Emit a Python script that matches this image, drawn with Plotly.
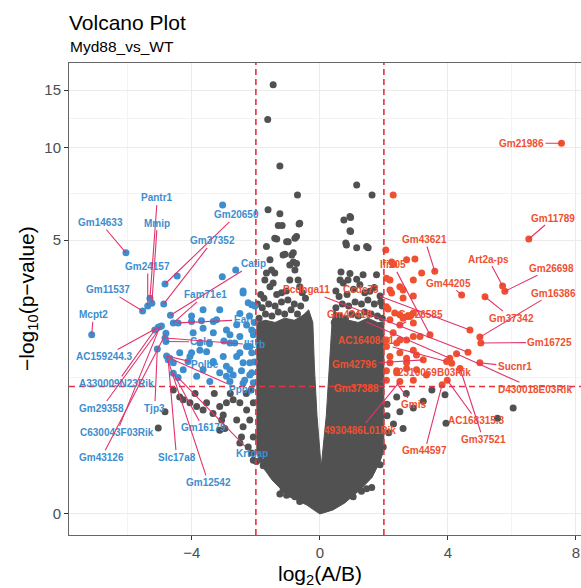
import numpy as np
import plotly.graph_objects as go

# ---------------- data (log2 fold change, -log10 p-value) ----------------
FC_CUT = 2.0
P_CUT = 0.05

# outline of the dense, fully overlapping cloud of non-significant genes
core_fc = [0, -0.41, -0.72, -0.94, -1.19, -1.5, -1.72, -1.91, -1.97,
           -1.97, -1.7, -1.4, -1.1, -0.8, -0.55, -0.35,
           -0.22, -0.17, -0.09, 0.04, 0.2, 0.3, 0.38, 0.45,
           0.6, 0.9, 1.2, 1.5, 1.8, 2.0,
           2.0, 1.88, 1.63, 1.25, 0.78, 0.41, 0]
core_nlp = [0, 0.06, 0.096, 0.117, 0.17, 0.25, 0.334, 0.42, 0.52,
            2.5, 2.55, 2.5, 2.6, 2.55, 2.65, 2.8,
            2.5, 1.6, 0.9, 0.36, 0.9, 1.6, 2.5, 2.8,
            2.6, 2.55, 2.5, 2.6, 2.5, 2.5,
            0.52, 0.41, 0.27, 0.17, 0.075, 0.027, 0]

# scattered non-significant genes
ns_points = [
    (-1.46, 15.56), (-1.63, 12.2), (-1.25, 8.74), (-0.70, 7.06), (-1.62, 6.31), (-1.25, 6.12),
    (-1.30, 5.6), (-1.18, 5.6), (-0.65, 5.66), (-0.73, 5.14), (-1.41, 5.07), (1.15, 7.60),
    (1.63, 7.06), (0.75, 5.84), (0.96, 5.95), (0.96, 5.34), (-0.63, 5.70), (-1.35, 5.04),
    (-0.99, 4.93), (-0.78, 5.07), (-1.67, 4.75), (-1.09, 4.47), (-0.83, 4.52), (-1.56, 4.27),
    (-0.83, 4.2), (-1.51, 3.93), (-1.41, 3.84), (-0.78, 3.93), (-1.72, 3.62), (-0.94, 3.62),
    (-0.68, 3.62), (-0.63, 3.42), (-1.56, 3.42), (-1.15, 4.44), (-0.88, 4.44), (-0.73, 4.15),
    (-0.94, 4.10), (-1.67, 3.84), (-1.46, 3.53), (-1.04, 4.93),
    (0.94, 6.0), (0.94, 5.38), (0.81, 4.88), (1.15, 4.70), (1.51, 4.70), (0.66, 3.87),
    (0.94, 3.82), (1.35, 3.78), (1.77, 3.78), (0.63, 3.62), (0.88, 3.62), (1.15, 3.64),
    (0.83, 4.81), (1.46, 4.75), (0.73, 3.53), (1.25, 3.48), (1.56, 3.29), (1.88, 3.16),
    (-1.85, 3.2), (-1.2, 3.25), (-0.45, 3.1), (0.5, 3.3), (1.05, 3.35), (1.7, 3.4),
    (-1.95, 2.95), (1.95, 2.9),
    (-1.9, 2.6), (-1.7, 2.7), (-1.5, 2.65), (-1.3, 2.75), (-1.1, 2.7), (-0.9, 2.8), (-0.7, 2.7),
    (-0.5, 2.6), (-0.35, 2.5), (-1.8, 2.85), (-1.6, 2.95), (-1.4, 2.9), (-1.2, 3.0), (-1.0, 3.05),
    (-0.8, 2.95), (-0.6, 2.9), (-1.75, 3.1), (-1.05, 3.3), (-0.55, 3.25), (-1.35, 3.2),
    (0.45, 2.5), (0.6, 2.65), (0.8, 2.6), (1.0, 2.7), (1.2, 2.65), (1.4, 2.75), (1.6, 2.7),
    (1.8, 2.65), (1.95, 2.6), (0.5, 2.85), (0.7, 2.95), (0.9, 2.9), (1.1, 3.0), (1.3, 2.95),
    (1.5, 3.05), (1.7, 2.95), (1.9, 3.0), (0.6, 3.15), (0.85, 3.2), (1.4, 3.25),
    (-4.58, 1.25), (-4.38, 1.15), (-4.27, 1.11), (-4.06, 1.07), (-3.85, 1.02), (-3.54, 1.07),
    (-3.65, 0.975), (-3.34, 0.93), (-3.07, 0.85), (-2.97, 0.75), (-3.13, 0.73), (-2.60, 0.85),
    (-2.40, 0.77), (-2.19, 0.85), (-2.29, 0.975), (-2.71, 1.11), (-2.92, 1.07), (-2.5, 1.07),
    (-2.08, 1.07), (-4.84, 0.95), (-5.05, 0.755), (-2.08, 0.655), (-2.5, 0.59), (-2.08, 0.42),
    (-3.13, 1.02), (-3.02, 0.91), (-2.45, 0.655), (-2.24, 0.55), (-2.13, 0.49), (-3.3, 1.2),
    (-2.8, 1.2), (-2.3, 1.2), (-3.9, 1.2), (-2.15, 1.25),
    (-1.98, 0.41), (-1.77, 0.37), (-1.56, 0.38), (-1.35, 0.30), (-1.25, 0.14), (-1.04, 0.13),
    (-1.15, 0.17), (-0.78, 0.12), (-0.63, 0.085), (1.46, 0.18), (1.62, 0.19), (1.30, 0.16),
    (1.88, 0.38), (1.82, 0.47), (1.98, 0.55), (1.04, 0.12),
    (3.94, 0.81), (6.04, 1.0), (5.55, 0.87), (3.91, 1.18), (3.23, 1.09), (2.92, 1.0), (2.5, 0.95),
    (2.3, 0.8), (2.15, 0.7), (2.6, 0.75), (2.1, 1.05), (2.4, 1.15), (2.1, 0.9), (2.7, 1.2),
    (3.5, 1.25),
]

# down-regulated genes (blue)
down_points = [
    (-3.04, 6.55), (-6.06, 4.52), (-4.46, 3.74), (-4.84, 3.50), (-3.05, 3.72), (-2.63, 3.93),
    (-2.40, 3.24), (-2.24, 2.98), (-2.03, 2.90), (-5.31, 3.10), (-5.25, 2.97), (-5.38, 2.90),
    (-5.54, 2.77), (-4.88, 2.95), (-4.67, 2.67), (-4.01, 2.65), (-3.65, 2.80), (-3.13, 2.80),
    (-4.58, 2.49), (-4.43, 2.49), (-4.01, 2.52), (-3.70, 2.54), (-3.33, 2.52), (-5.0, 2.40),
    (-7.13, 2.23), (-5.05, 2.39), (-4.95, 2.42), (-5.16, 2.33), (-4.81, 2.26), (-4.81, 2.09),
    (-4.84, 2.16), (-5.08, 1.94), (-4.79, 1.81), (-4.69, 1.77), (-4.74, 1.74), (-4.58, 1.51),
    (-4.43, 1.44),
    (-2.40, 3.30), (-2.13, 2.93), (-2.5, 2.71), (-3.65, 2.37), (-3.23, 2.56), (-2.92, 2.33),
    (-2.29, 2.44), (-2.13, 2.33), (-2.81, 2.06), (-2.29, 1.99), (-2.13, 1.87), (-3.02, 1.80),
    (-2.60, 1.80), (-2.19, 1.69), (-3.33, 1.71), (-3.75, 1.92), (-4.06, 1.80), (-2.45, 1.55),
    (-2.81, 1.57), (-2.13, 1.52), (-2.92, 1.46),
    (-4.01, 1.87), (-3.54, 1.89), (-3.34, 1.69), (-2.92, 1.63), (-2.5, 1.87), (-2.40, 1.69),
    (-2.71, 1.48), (-2.19, 1.48), (-3.65, 1.57), (-3.13, 1.52), (-3.44, 1.38), (-3.85, 1.46),
    (-4.27, 1.57), (-4.12, 1.71), (-2.81, 1.38), (-2.40, 1.35), (-2.81, 2.23), (-2.5, 2.19),
    (-2.08, 2.23), (-2.66, 2.06), (-2.19, 1.99), (-3.75, 2.06), (-3.33, 2.27), (-3.96, 2.27),
    (-4.38, 1.87), (-4.58, 1.69),
    (-2.08, 1.36), (-2.6, 2.45), (-3.0, 2.1), (-2.2, 2.65), (-2.05, 2.5), (-3.45, 2.05),
    (-2.35, 1.4), (-2.05, 1.7),
]

# up-regulated genes (red)
up_points = [
    (2.29, 7.06), (7.55, 10.3), (6.53, 5.04), (3.59, 3.89), (3.18, 3.84), (2.97, 4.3), (2.71, 4.27),
    (2.06, 4.62), (2.24, 4.2), (2.31, 4.12), (2.08, 3.67), (2.19, 3.62), (2.60, 3.33), (2.24, 3.24),
    (2.60, 3.11), (2.13, 2.82), (2.5, 2.68), (2.71, 2.64), (2.92, 2.72), (4.43, 3.19), (5.16, 3.14),
    (5.71, 3.44), (5.78, 3.29), (5.0, 2.18), (5.03, 2.06), (3.44, 2.23), (4.69, 2.33), (4.63, 1.88),
    (4.27, 1.85), (4.06, 1.77), (3.96, 1.71), (4.12, 1.68), (4.38, 1.59), (5.0, 1.69), (3.82, 1.33),
    (3.98, 1.40),
    (2.34, 2.72), (2.19, 2.56), (2.6, 2.6), (2.5, 2.44), (2.81, 2.64), (2.29, 2.27), (2.08, 2.12),
    (2.40, 2.06), (2.71, 2.12), (2.92, 2.19), (3.13, 2.19), (2.19, 1.80), (2.5, 1.87), (2.71, 1.77),
    (3.02, 1.83), (3.23, 1.74), (2.08, 1.55), (2.40, 1.55), (2.71, 1.59), (3.02, 1.57), (3.33, 1.48),
    (2.08, 1.40), (2.5, 1.38), (2.92, 1.40),
    (2.19, 3.33), (2.5, 3.42), (2.92, 3.62), (2.92, 3.16), (2.08, 2.88), (2.92, 2.49), (2.08, 1.99),
    (2.5, 2.12), (2.92, 1.92), (2.19, 1.69), (2.71, 1.69), (2.40, 1.52),
]

# labelled genes: name, log2FC, -log10 p
down_genes = ["Pantr1", "Mmip", "Gm14633", "Gm24157", "Gm20650", "Gm37352", "Catip", "Fam71e1",
              "Earl", "Colq", "Il1rb", "Polbe", "Ppbp", "AC159244.3", "A330009N23Rik", "Gm29358",
              "Tjp3", "C630043F03Rik", "Gm43126", "Slc17a8", "Gm16179", "Krtdap", "Gm12542",
              "Gm11537", "Mcpt2"]
down_gene_fc = [-5.31, -5.25, -6.06, -5.38, -4.84, -4.88, -4.67, -4.58, -4.43, -4.81, -4.84, -4.79,
                -4.69, -5.05, -5.16, -4.95, -5.08, -5.0, -4.81, -4.74, -4.58, -4.43, -4.79, -5.54, -7.13]
down_gene_nlp = [3.10, 2.97, 4.52, 2.90, 3.50, 2.95, 2.67, 2.49, 2.49, 2.09, 2.16, 1.81, 1.77, 2.39,
                 2.33, 2.42, 1.94, 2.40, 2.26, 1.74, 1.51, 1.44, 1.81, 2.77, 2.23]

up_genes = ["Gm21986", "Gm11789", "Gm43621", "Gm44205", "Art2a-ps", "Gm26698", "Gm16386", "Gm37342",
            "Gm16725", "Sucnr1", "D430018E03Rik", "AC168315.3", "Gm37521", "Gm44597", "2310069B03Rik",
            "Gm26585", "Ifi205", "Pcdhga11", "Ccdc73", "Gm42418", "AC164084.1", "Gm42796", "Gm37388",
            "Gmis", "4930486L01Rik"]
up_gene_fc = [7.55, 6.53, 3.59, 4.43, 5.71, 5.78, 5.0, 5.16, 5.03, 5.0, 4.27, 3.98, 4.38, 3.82, 3.02,
              2.5, 3.44, 4.63, 4.69, 4.06, 3.96, 3.23, 2.08, 2.40, 2.5]
up_gene_nlp = [10.3, 5.04, 3.89, 3.19, 3.44, 3.29, 2.18, 3.14, 2.06, 1.69, 1.85, 1.40, 1.59, 1.33, 1.57,
               2.44, 2.23, 1.88, 2.33, 1.77, 1.71, 1.74, 1.40, 1.35, 1.38]

# label placement (layout only): text centre in (log2FC, -log10 p)
down_label_pos = [(-5.08, 6.9), (-5.08, 5.70), (-6.86, 5.73), (-5.38, 4.05), (-2.60, 6.07),
                  (-3.35, 4.97), (-2.08, 4.13), (-3.59, 3.19), (-2.40, 2.56), (-3.70, 2.08),
                  (-2.03, 2.02), (-3.59, 1.65), (-2.45, 1.25), (-6.72, 1.80), (-6.35, 1.35),
                  (-6.82, 1.0), (-5.16, 1.0), (-6.35, 0.70), (-6.82, 0.45), (-4.48, 0.45),
                  (-3.65, 0.755), (-2.13, 0.49), (-3.49, 0.23), (-6.62, 3.33), (-7.08, 2.68)]
up_label_pos = [(6.30, 10.3), (7.29, 5.93), (3.28, 5.02), (4.01, 3.52), (5.26, 4.3), (7.24, 3.99),
                (7.29, 3.24), (5.99, 2.6), (7.19, 2.07), (6.09, 1.62), (6.72, 1.26), (4.90, 0.84),
                (5.10, 0.63), (3.28, 0.51), (3.59, 1.515), (3.13, 2.68), (2.29, 4.1), (-0.42, 3.33),
                (1.30, 3.35), (0.94, 2.68), (1.46, 2.12), (1.09, 1.66), (1.15, 1.27), (2.92, 1.04),
                (1.25, 0.73)]

# ---------------- styling ----------------
GRAY = "#515151"
BLUE = "#3d8ecf"
RED = "#ef5030"
SEG = "#e2336a"
THR = "#e5343f"
FONT = "Liberation Sans, Arial, sans-serif"


def tr(v):
    """-log10 p axis is drawn on a log10(1 + y) scale."""
    return np.log10(1.0 + np.asarray(v, dtype=float))


fig = go.Figure()

fig.add_trace(go.Scatter(x=core_fc, y=tr(core_nlp), mode="lines", fill="toself",
                         fillcolor=GRAY, line=dict(color=GRAY, width=1), hoverinfo="skip",
                         showlegend=False))

for pts, col in ((ns_points, GRAY), (down_points, BLUE), (up_points, RED)):
    xs = [p[0] for p in pts]
    ys = [p[1] for p in pts]
    fig.add_trace(go.Scatter(x=xs, y=tr(ys), mode="markers",
                             marker=dict(color=col, size=7, line=dict(width=0)),
                             showlegend=False))

# thresholds
fig.add_vline(x=-FC_CUT, line=dict(color=THR, width=1.6, dash="6px,4px"))
fig.add_vline(x=FC_CUT, line=dict(color=THR, width=1.6, dash="6px,4px"))
fig.add_hline(y=float(tr(-np.log10(P_CUT))), line=dict(color=THR, width=1.6, dash="6px,4px"))

annotations = []
for genes, gx, gy, pos, col in ((down_genes, down_gene_fc, down_gene_nlp, down_label_pos, BLUE),
                                (up_genes, up_gene_fc, up_gene_nlp, up_label_pos, RED)):
    for g, x, y, (lx, ly) in zip(genes, gx, gy, pos):
        annotations.append(dict(
            x=x, y=float(tr(y)), xref="x", yref="y",
            ax=lx, ay=float(tr(ly)), axref="x", ayref="y",
            text=f"<b>{g}</b>", showarrow=True, arrowhead=0, arrowwidth=1.1,
            arrowcolor=SEG, standoff=0, startstandoff=0,
            font=dict(family=FONT, size=10, color=col)))

# titles
annotations += [
    dict(text="Volcano Plot", xref="paper", yref="paper", x=0, y=1, xanchor="left",
         yanchor="middle", yshift=41, xshift=-2, showarrow=False,
         font=dict(family=FONT, size=21, color="black")),
    dict(text="Myd88_vs_WT", xref="paper", yref="paper", x=0, y=1, xanchor="left",
         yanchor="middle", yshift=17, xshift=-1, showarrow=False,
         font=dict(family=FONT, size=15.5, color="black")),
    dict(text="\u2212log<sub>10</sub>(p\u2212value)", xref="paper", yref="paper", x=0, y=0.5,
         xanchor="center", yanchor="middle", xshift=-41, textangle=-90, showarrow=False,
         font=dict(family=FONT, size=21, color="black")),
    dict(text="log<sub>2</sub>(A/B)", xref="x", yref="paper", x=0, y=0,
         xanchor="center", yanchor="middle", yshift=-40, showarrow=False,
         font=dict(family=FONT, size=21, color="black")),
]

y_ticks = [0, 5, 10, 15]
fig.update_layout(
    width=581, height=588,
    margin=dict(l=69, r=0, t=63, b=53),
    plot_bgcolor="white", paper_bgcolor="white",
    annotations=annotations,
    xaxis=dict(range=[-7.84, 8.16], tickvals=[-4, 0, 4, 8], ticks="outside", ticklen=4,
               tickcolor="#333333", tickfont=dict(family=FONT, size=15, color="#4d4d4d"),
               showgrid=True, gridcolor="#ebebeb", gridwidth=1, zeroline=False,
               showline=True, linecolor="#666666", linewidth=1, mirror=True,
               minor=dict(tickvals=[-6, -2, 2, 6], showgrid=True, gridcolor="#f3f3f3",
                          gridwidth=0.7, ticks="")),
    yaxis=dict(range=[-0.0597, 1.281], tickvals=list(tr(y_ticks)),
               ticktext=[str(v) for v in y_ticks], ticks="outside", ticklen=4,
               tickcolor="#333333", tickfont=dict(family=FONT, size=15, color="#4d4d4d"),
               showgrid=True, gridcolor="#ebebeb", gridwidth=1, zeroline=False,
               showline=True, linecolor="#666666", linewidth=1,
               minor=dict(tickvals=[0.389, 0.9095, 1.1225], showgrid=True,
                          gridcolor="#f3f3f3", gridwidth=0.7, ticks="")),
)

fig.write_html("out.html")
